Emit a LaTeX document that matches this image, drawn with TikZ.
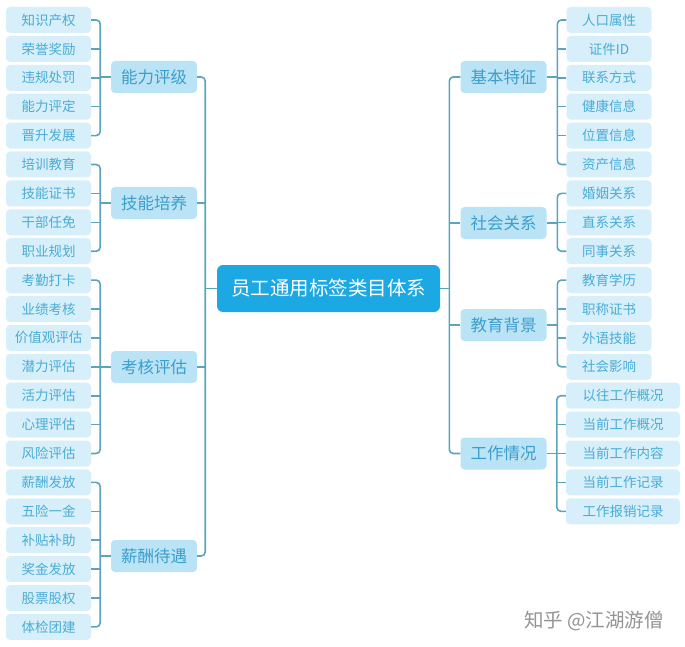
\documentclass[tikz,border=0pt]{standalone}
\usepackage{fontspec}
\setmainfont{Noto Sans CJK SC}
\usepackage{tikz}

\definecolor{leaffill}{RGB}{214,239,250}
\definecolor{leaftext}{RGB}{74,172,214}
\definecolor{midfill}{RGB}{186,227,246}
\definecolor{midtext}{RGB}{60,158,204}
\definecolor{rootfill}{RGB}{28,168,226}
\definecolor{linecol}{RGB}{92,164,188}

\tikzset{
  leaf/.style={fill=leaffill, text=leaftext, rounded corners=4pt, inner sep=0pt,
    minimum width=85pt, minimum height=26pt, font=\fontsize{13.5}{14}\selectfont},
  wideleaf/.style={leaf, minimum width=114pt},
  branch/.style={fill=midfill, text=midtext, rounded corners=4pt, inner sep=0pt,
    minimum width=86pt, minimum height=32pt, font=\fontsize{16.5}{17}\selectfont},
  root/.style={fill=rootfill, text=white, rounded corners=6pt, inner sep=0pt,
    minimum width=223pt, minimum height=47pt, font=\fontsize{19.5}{20}\selectfont},
  link/.style={draw=linecol, line width=1.6pt, rounded corners=4pt}
}

\begin{document}
\begin{tikzpicture}[x=1pt, y=-1pt]
  \useasboundingbox (0, 0) rectangle (685, 647);
  \node[root] (top) at (328.5, 288.5) {员工通用标签类目体系};

  \node[branch] (ml1) at (154, 77) {能力评级};
  \node[branch] (ml2) at (154, 203) {技能培养};
  \node[branch] (ml3) at (154, 367) {考核评估};
  \node[branch] (ml4) at (154, 556) {薪酬待遇};

  \node[branch] (mr1) at (503.5, 77) {基本特征};
  \node[branch] (mr2) at (503.5, 223) {社会关系};
  \node[branch] (mr3) at (503.5, 325) {教育背景};
  \node[branch] (mr4) at (503.5, 453.5) {工作情况};

  \node[leaf] (l1) at (48.5, 20) {知识产权};
  \node[leaf] (l2) at (48.5, 48.9) {荣誉奖励};
  \node[leaf] (l3) at (48.5, 77.8) {违规处罚};
  \node[leaf] (l4) at (48.5, 106.7) {能力评定};
  \node[leaf] (l5) at (48.5, 135.6) {晋升发展};
  \node[leaf] (l6) at (48.5, 164.5) {培训教育};
  \node[leaf] (l7) at (48.5, 193.4) {技能证书};
  \node[leaf] (l8) at (48.5, 222.3) {干部任免};
  \node[leaf] (l9) at (48.5, 251.2) {职业规划};
  \node[leaf] (l10) at (48.5, 280.1) {考勤打卡};
  \node[leaf] (l11) at (48.5, 309) {业绩考核};
  \node[leaf] (l12) at (48.5, 337.9) {价值观评估};
  \node[leaf] (l13) at (48.5, 366.8) {潜力评估};
  \node[leaf] (l14) at (48.5, 395.7) {活力评估};
  \node[leaf] (l15) at (48.5, 424.6) {心理评估};
  \node[leaf] (l16) at (48.5, 453.5) {风险评估};
  \node[leaf] (l17) at (48.5, 482.4) {薪酬发放};
  \node[leaf] (l18) at (48.5, 511.3) {五险一金};
  \node[leaf] (l19) at (48.5, 540.2) {补贴补助};
  \node[leaf] (l20) at (48.5, 569.1) {奖金发放};
  \node[leaf] (l21) at (48.5, 598) {股票股权};
  \node[leaf] (l22) at (48.5, 626.9) {体检团建};

  \node[leaf] (r1) at (609, 20) {人口属性};
  \node[leaf] (r2) at (609, 48.9) {证件ID};
  \node[leaf] (r3) at (609, 77.8) {联系方式};
  \node[leaf] (r4) at (609, 106.7) {健康信息};
  \node[leaf] (r5) at (609, 135.6) {位置信息};
  \node[leaf] (r6) at (609, 164.5) {资产信息};
  \node[leaf] (r7) at (609, 193.4) {婚姻关系};
  \node[leaf] (r8) at (609, 222.3) {直系关系};
  \node[leaf] (r9) at (609, 251.2) {同事关系};
  \node[leaf] (r10) at (609, 280.1) {教育学历};
  \node[leaf] (r11) at (609, 309) {职称证书};
  \node[leaf] (r12) at (609, 337.9) {外语技能};
  \node[leaf] (r13) at (609, 366.8) {社会影响};
  \node[wideleaf] (r14) at (623, 395.7) {以往工作概况};
  \node[wideleaf] (r15) at (623, 424.6) {当前工作概况};
  \node[wideleaf] (r16) at (623, 453.5) {当前工作内容};
  \node[wideleaf] (r17) at (623, 482.4) {当前工作记录};
  \node[wideleaf] (r18) at (623, 511.3) {工作报销记录};

  \draw[link] (ml1.east) -- ++(8, 0) |- (ml4.east);
  \draw[link] (ml2.east) -- ++(8, 0);
  \draw[link] (ml3.east) -- ++(8, 0);
  \draw[link] (top.west) -- ++(-12, 0);
  \draw[link] (mr1.west) -- ++(-11, 0) |- (mr4.west);
  \draw[link] (mr2.west) -- ++(-11, 0);
  \draw[link] (mr3.west) -- ++(-11, 0);
  \draw[link] (top.east) -- ++(10, 0);

  \draw[link] (l1.east) -- ++(9, 0) |- (l5.east);
  \draw[link] (l2.east) -- ++(9, 0);
  \draw[link] (l3.east) -- ++(9, 0);
  \draw[link] (l4.east) -- ++(9, 0);
  \draw[link] (ml1.west) -- ++(-11, 0);
  \draw[link] (l6.east) -- ++(9, 0) |- (l9.east);
  \draw[link] (l7.east) -- ++(9, 0);
  \draw[link] (l8.east) -- ++(9, 0);
  \draw[link] (ml2.west) -- ++(-11, 0);
  \draw[link] (l10.east) -- ++(9, 0) |- (l16.east);
  \draw[link] (l11.east) -- ++(9, 0);
  \draw[link] (l12.east) -- ++(9, 0);
  \draw[link] (l13.east) -- ++(9, 0);
  \draw[link] (l14.east) -- ++(9, 0);
  \draw[link] (l15.east) -- ++(9, 0);
  \draw[link] (ml3.west) -- ++(-11, 0);
  \draw[link] (l17.east) -- ++(9, 0) |- (l22.east);
  \draw[link] (l18.east) -- ++(9, 0);
  \draw[link] (l19.east) -- ++(9, 0);
  \draw[link] (l20.east) -- ++(9, 0);
  \draw[link] (l21.east) -- ++(9, 0);
  \draw[link] (ml4.west) -- ++(-11, 0);

  \draw[link] (r1.west) -- ++(-9, 0) |- (r6.west);
  \draw[link] (r2.west) -- ++(-9, 0);
  \draw[link] (r3.west) -- ++(-9, 0);
  \draw[link] (r4.west) -- ++(-9, 0);
  \draw[link] (r5.west) -- ++(-9, 0);
  \draw[link] (mr1.east) -- ++(11, 0);
  \draw[link] (r7.west) -- ++(-9, 0) |- (r9.west);
  \draw[link] (r8.west) -- ++(-9, 0);
  \draw[link] (mr2.east) -- ++(11, 0);
  \draw[link] (r10.west) -- ++(-9, 0) |- (r13.west);
  \draw[link] (r11.west) -- ++(-9, 0);
  \draw[link] (r12.west) -- ++(-9, 0);
  \draw[link] (mr3.east) -- ++(11, 0);
  \draw[link] (r14.west) -- ++(-9, 0) |- (r18.west);
  \draw[link] (r15.west) -- ++(-9, 0);
  \draw[link] (r16.west) -- ++(-9, 0);
  \draw[link] (r17.west) -- ++(-9, 0);
  \draw[link] (mr4.east) -- ++(11, 0);

  \node[text=black!42, font=\fontsize{19.5}{20}\selectfont] (mark) at (594, 621) {知乎 @江湖游僧};
\end{tikzpicture}
\end{document}
